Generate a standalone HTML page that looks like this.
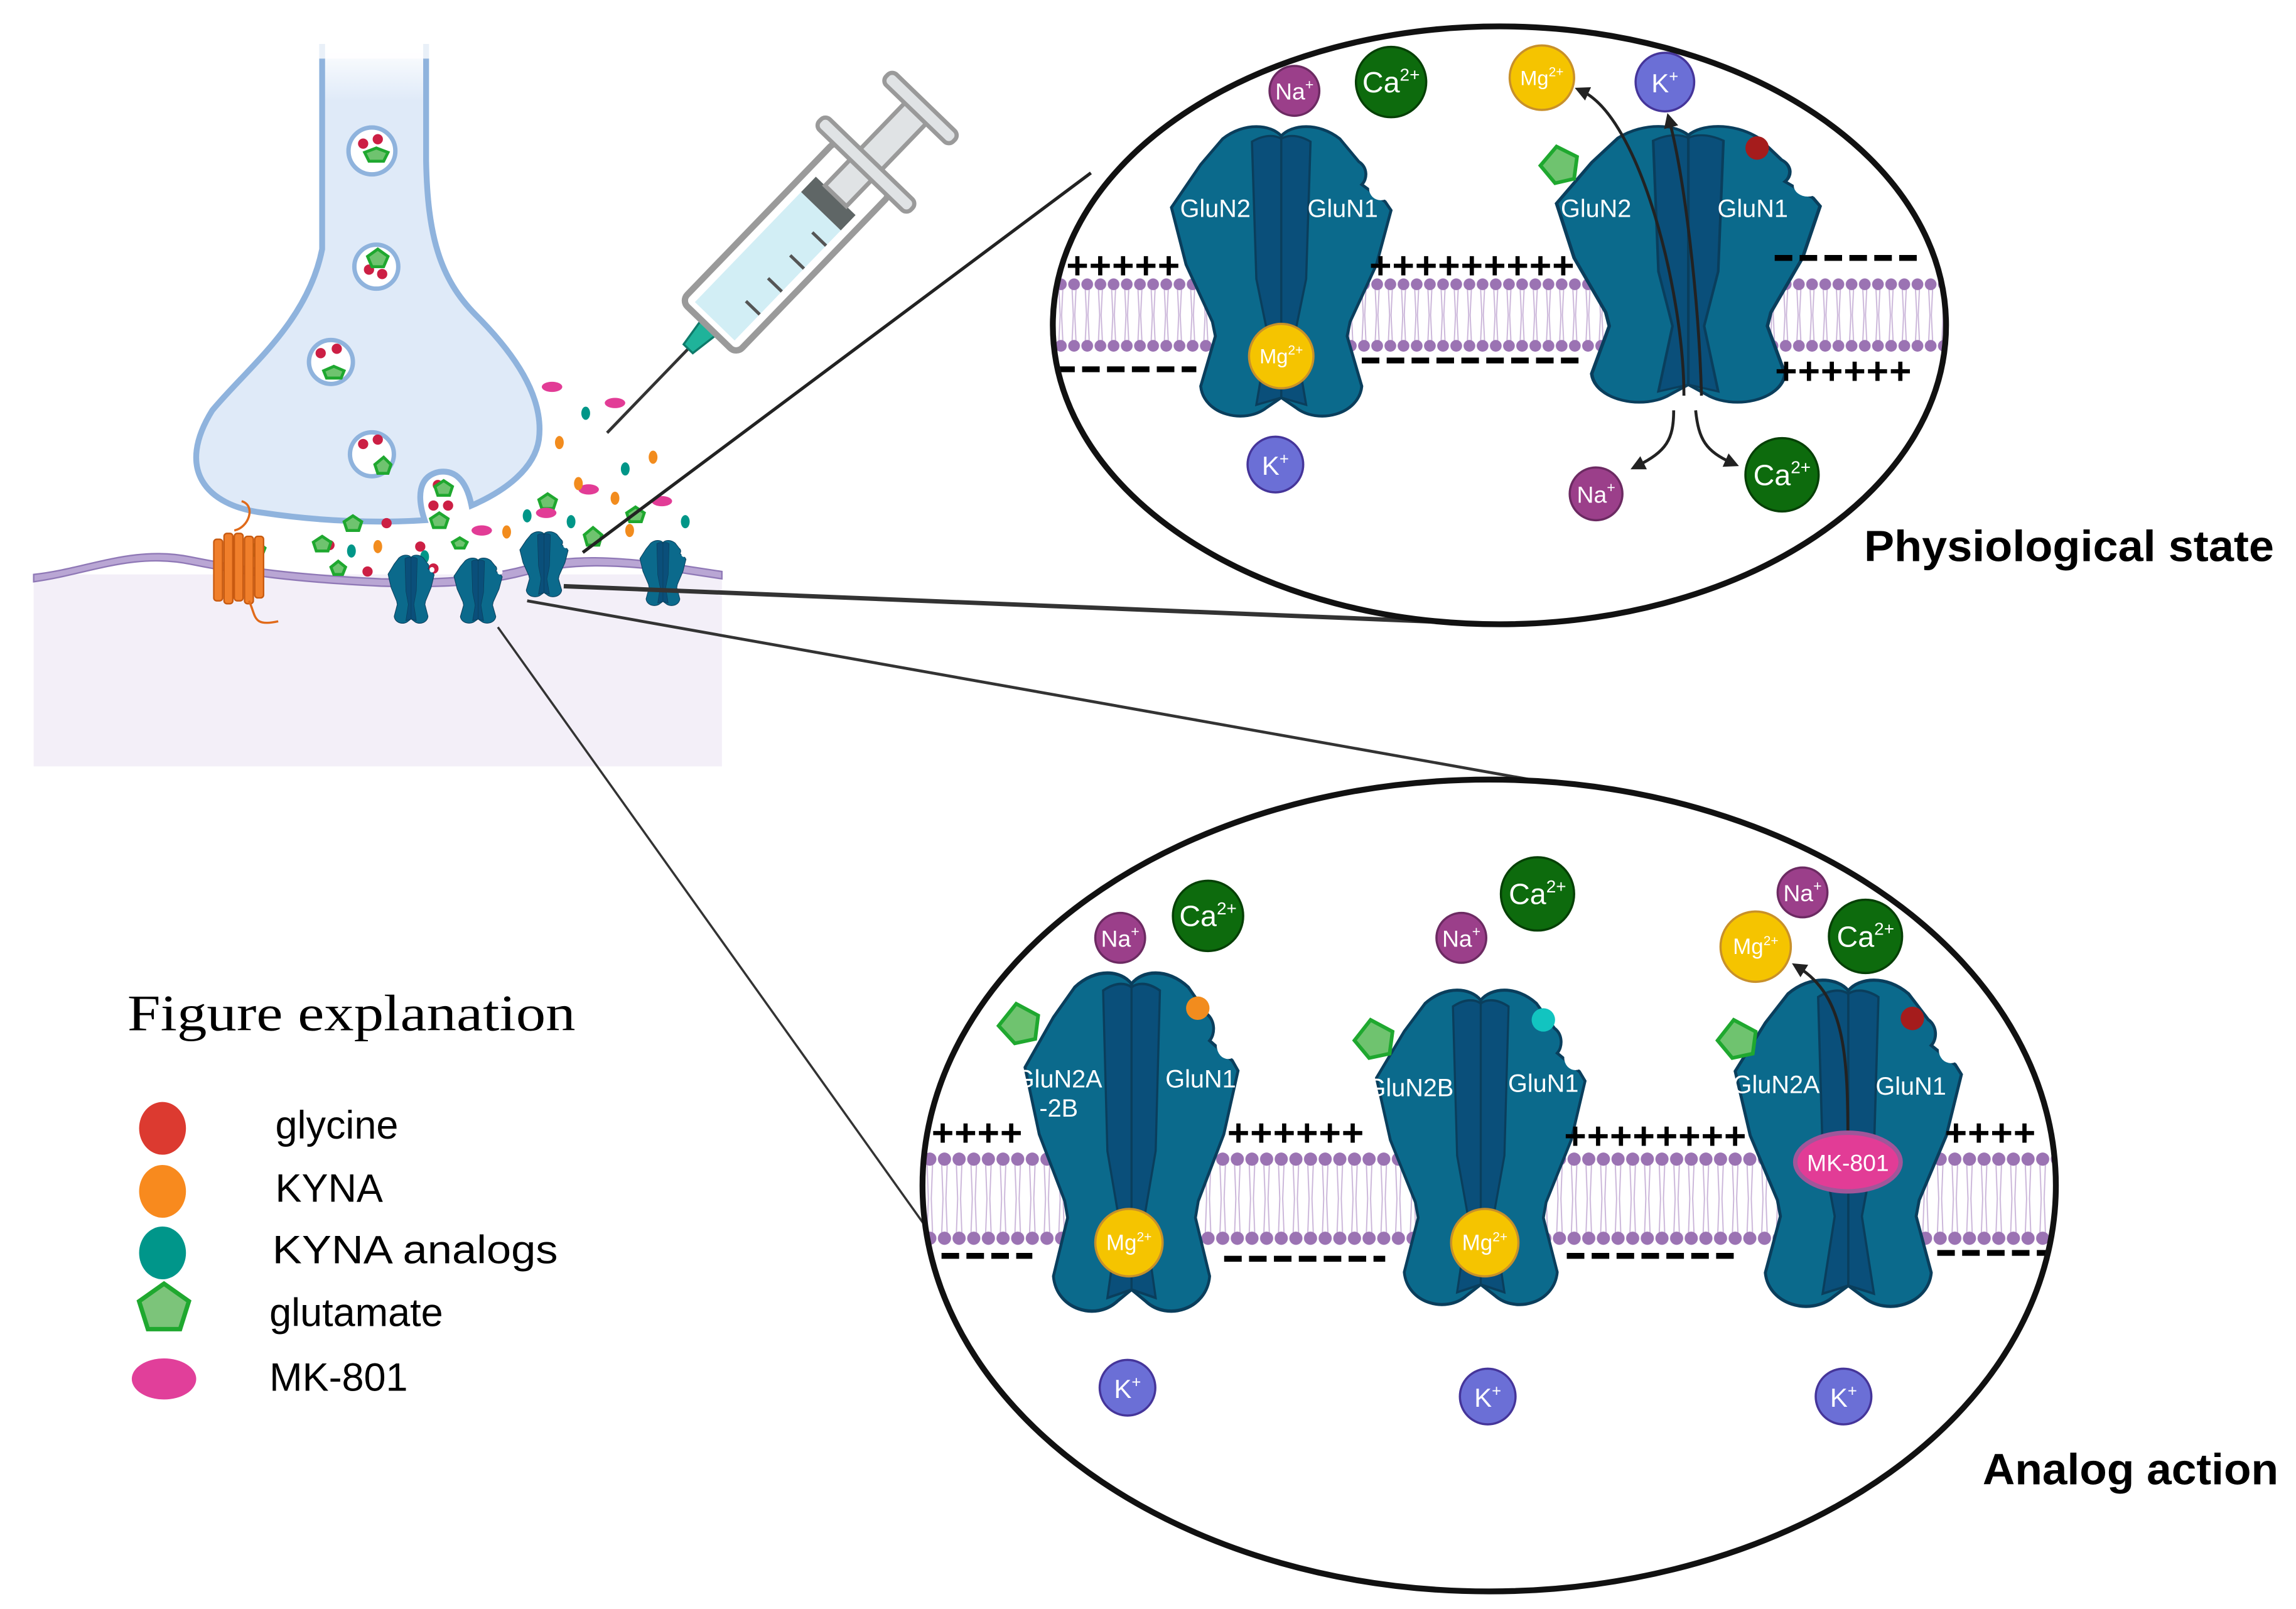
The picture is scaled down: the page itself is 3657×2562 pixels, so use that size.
<!DOCTYPE html>
<html><head><meta charset="utf-8"><style>
html,body{margin:0;padding:0;background:#fff}
svg{display:block}
.ion{font-family:"Liberation Sans Narrow","Liberation Sans",sans-serif;fill:#fff;text-anchor:middle}
.lab{font-family:"Liberation Sans Narrow","Liberation Sans",sans-serif;fill:#fff;font-size:17px;text-anchor:middle}
.pm{font-family:"Liberation Mono",monospace;font-weight:bold;fill:#000;font-size:26px}
.mn{stroke:#000;stroke-width:4;stroke-dasharray:12 5}
</style></head><body>
<svg width="3657" height="2562" viewBox="0 0 1568 1098" preserveAspectRatio="none" xmlns="http://www.w3.org/2000/svg">
<defs>
<symbol id="ch" viewBox="0 0 150 210" overflow="visible">
<path d="M35,12 C50,0 68,2 75,10 C82,2 100,0 115,12 L128,28 C134,32 134,40 130,44 L146,56 L150,62 L140,100 L122,140 L120,150 L130,185 C128,205 100,212 85,200 L75,193 L65,200 C50,212 22,205 20,185 L30,150 L28,140 L10,100 L0,60 L20,30 Z" fill="#0b6a8c" stroke="#0a3e5c" stroke-width="2"/>
<path d="M55,14 C65,8 72,10 75,12 C78,10 85,8 95,14 L92,110 L84,150 L92,198 L75,193 L58,198 L66,150 L58,110 Z" fill="#0a4f7a" stroke="#0a3e5c" stroke-width="1.5"/>
<line x1="75" y1="12" x2="75" y2="193" stroke="#0a3e5c" stroke-width="1.5"/>
<circle cx="143" cy="47" r="8" fill="#fff"/>
</symbol>
<pattern id="lipT" patternUnits="userSpaceOnUse" x="0" y="190" width="9" height="50">
<rect width="9" height="50" fill="#fff"/>
<path d="M3,4 L4,25 M6,4 L5,25 M3,46 L4,25 M6,46 L5,25" stroke="#c9b3d8" stroke-width="0.8"/>
<circle cx="4.5" cy="4" r="4" fill="#9b73b3"/><circle cx="4.5" cy="46" r="4" fill="#9b73b3"/>
</pattern>
<pattern id="lipB" patternUnits="userSpaceOnUse" x="0" y="786" width="10" height="64">
<rect width="10" height="64" fill="#fff"/>
<path d="M3,5 L4,32 M7,5 L6,32 M3,59 L4,32 M7,59 L6,32" stroke="#c9b3d8" stroke-width="0.8"/>
<circle cx="5" cy="5" r="4.5" fill="#9b73b3"/><circle cx="5" cy="59" r="4.5" fill="#9b73b3"/>
</pattern>
<clipPath id="cT"><ellipse cx="1024" cy="222" rx="305" ry="204"/></clipPath>
<clipPath id="cB"><ellipse cx="1017" cy="809" rx="387" ry="277"/></clipPath>
<marker id="ah" viewBox="0 0 10 10" refX="5" refY="5" markerWidth="5" markerHeight="5" orient="auto"><path d="M0,0 L10,5 L0,10 Z" fill="#222"/></marker>
<linearGradient id="ax" x1="0" y1="0" x2="0" y2="1"><stop offset="0" stop-color="#fff"/><stop offset="0.12" stop-color="#dfeaf8"/></linearGradient>
</defs>

<rect x="23" y="392" width="470" height="131" fill="#f3eff8"/>
<path d="M23,392 C60,388 90,372 130,380 C170,388 200,392 260,395 C300,396 330,394 360,386 C390,378 420,380 460,385 L493,390 L493,395 L460,390 C420,385 390,384 360,392 C330,400 300,401 260,400 C200,397 170,393 130,385 C90,377 60,392 23,397 Z" fill="#b9a6d4" stroke="#8f78b6" stroke-width="1"/>
<path d="M220,30 L220,170 C210,220 170,250 145,280 C120,320 140,345 180,350 C220,356 260,357 290,355 C285,340 285,325 300,322 C315,320 320,335 322,345 C345,335 365,320 368,300 C372,270 350,240 325,215 C300,190 292,160 291,110 L291,30" fill="url(#ax)" stroke="#8fb3dd" stroke-width="4"/>
<rect x="215" y="20" width="82" height="20" fill="#fff" opacity="0.8"/>
<g fill="#fff" stroke="#8fb3dd" stroke-width="3">
<circle cx="254" cy="103" r="16"/><circle cx="257" cy="182" r="15"/><circle cx="226" cy="247" r="15"/><circle cx="254" cy="310" r="15"/></g>
<g fill="#cc1f44"><circle cx="248" cy="98" r="3.5"/><circle cx="258" cy="95" r="3.5"/><circle cx="252" cy="184" r="3.5"/><circle cx="261" cy="187" r="3.5"/><circle cx="219" cy="241" r="3.5"/><circle cx="230" cy="238" r="3.5"/><circle cx="248" cy="303" r="3.5"/><circle cx="258" cy="300" r="3.5"/>
<circle cx="299" cy="331" r="3.5"/><circle cx="296" cy="345" r="3.5"/><circle cx="306" cy="345" r="3.5"/><circle cx="287" cy="373" r="3.5"/><circle cx="225" cy="372" r="3.5"/><circle cx="251" cy="390" r="3.5"/><circle cx="296" cy="388" r="3.5"/><circle cx="264" cy="357" r="3.5"/></g>
<g fill="#6fc36f" stroke="#1fa82f" stroke-width="2">
<path d="M249,104 l8,-3 8,3 -3,6 -10,0z"/><path d="M258,170 l7,5 -3,7 -8,0 -3,-7z"/><path d="M228,250 l7,3 -2,5 -10,0 -2,-5z"/><path d="M262,312 l5,5 -2,6 -7,0 -2,-6z"/>
<path d="M241,352 l6,4 -2,6 -8,0 -2,-6z"/><path d="M176,370 l5,4 -2,5 -6,0 -2,-5z"/><path d="M220,366 l6,4 -2,6 -8,0 -2,-6z"/><path d="M231,383 l5,4 -2,5 -6,0 -2,-5z"/><path d="M303,328 l6,4 -2,6 -8,0 -2,-6z"/><path d="M300,350 l6,4 -2,6 -8,0 -2,-6z"/><path d="M314,367 l5,3 -2,4 -6,0 -2,-4z"/><path d="M374,337 l6,4 -2,6 -8,0 -2,-6z"/><path d="M405,360 l6,5 -2,7 -8,0 -2,-7z"/><path d="M434,346 l6,4 -2,6 -8,0 -2,-6z"/></g>
<g fill="#e23c96"><ellipse cx="377" cy="264" rx="7" ry="3.5"/><ellipse cx="420" cy="275" rx="7" ry="3.5"/><ellipse cx="402" cy="334" rx="7" ry="3.5"/><ellipse cx="373" cy="350" rx="7" ry="3.5"/><ellipse cx="329" cy="362" rx="7" ry="3.5"/><ellipse cx="452" cy="342" rx="7" ry="3.5"/></g>
<g fill="#f28c1e"><ellipse cx="382" cy="302" rx="3" ry="4.5"/><ellipse cx="446" cy="312" rx="3" ry="4.5"/><ellipse cx="395" cy="330" rx="3" ry="4.5"/><ellipse cx="420" cy="340" rx="3" ry="4.5"/><ellipse cx="430" cy="362" rx="3" ry="4.5"/><ellipse cx="346" cy="363" rx="3" ry="4.5"/><ellipse cx="258" cy="373" rx="3" ry="4.5"/></g>
<g fill="#009688"><ellipse cx="400" cy="282" rx="3" ry="4.5"/><ellipse cx="427" cy="320" rx="3" ry="4.5"/><ellipse cx="360" cy="352" rx="3" ry="4.5"/><ellipse cx="390" cy="356" rx="3" ry="4.5"/><ellipse cx="468" cy="356" rx="3" ry="4.5"/><ellipse cx="240" cy="376" rx="3" ry="4.5"/><ellipse cx="290" cy="380" rx="3" ry="4.5"/></g>
<g fill="#f07f2b" stroke="#c85a10" stroke-width="1"><rect x="146" y="368" width="6" height="42" rx="2"/><rect x="153" y="364" width="6" height="48" rx="2"/><rect x="160" y="364" width="6" height="46" rx="2"/><rect x="167" y="366" width="6" height="46" rx="2"/><rect x="174" y="366" width="6" height="42" rx="2"/></g>
<path d="M165,342 C175,345 170,360 160,362 M170,410 C175,420 172,428 190,424" stroke="#e06a1a" stroke-width="1.5" fill="none"/>
<use href="#ch" transform="translate(265,378) scale(0.21,0.23)" width="150" height="210"/>
<use href="#ch" transform="translate(310,380) scale(0.22,0.22)" width="150" height="210"/>
<use href="#ch" transform="translate(355,362) scale(0.22,0.22)" width="150" height="210"/>
<use href="#ch" transform="translate(437,368) scale(0.21,0.22)" width="150" height="210"/>
<!-- syringe -->
<g transform="translate(470,238) rotate(-46) scale(1.45)">
<line x1="-55" y1="0" x2="0" y2="0" stroke="#333" stroke-width="1.4"/>
<path d="M0,-3 L14,-5 L14,5 L0,3 Z" fill="#1fb39a" stroke="#0e7a6a"/>
<rect x="14" y="-18" width="105" height="36" rx="4" fill="#fff" stroke="#9a9a9a" stroke-width="3"/>
<rect x="18" y="-13" width="72" height="26" fill="#d2eef5"/>
<rect x="90" y="-13" width="10" height="26" fill="#5f6666"/>
<rect x="100" y="-7" width="55" height="14" fill="#e0e3e5" stroke="#9a9a9a" stroke-width="2"/>
<rect x="117" y="-30" width="7" height="60" rx="3" fill="#e0e3e5" stroke="#9a9a9a" stroke-width="2"/>
<rect x="154" y="-22" width="7" height="44" rx="3" fill="#e0e3e5" stroke="#9a9a9a" stroke-width="2"/>
<path d="M35,13 V4 M50,13 V4 M65,13 V4 M80,13 V4" stroke="#555" stroke-width="1.5"/>
</g>
<line x1="398" y1="377" x2="745" y2="118" stroke="#222" stroke-width="2.2"/>
<line x1="385" y1="400" x2="1000" y2="425" stroke="#333" stroke-width="3"/>
<line x1="360" y1="410" x2="1045" y2="532" stroke="#333" stroke-width="2"/>
<line x1="340" y1="428" x2="645" y2="855" stroke="#333" stroke-width="1.5"/>

<!-- TOP ELLIPSE -->
<ellipse cx="1024" cy="222" rx="305" ry="204" fill="#fff"/>
<rect x="700" y="190" width="650" height="50" fill="url(#lipT)" clip-path="url(#cT)"/>
<use href="#ch" transform="translate(800,83) scale(1,0.976)" width="150" height="210"/>
<use href="#ch" transform="translate(1063,83) scale(1.2,0.93)" width="150" height="210"/>
<text class="lab" x="830" y="148">GluN2</text><text class="lab" x="917" y="148">GluN1</text>
<text class="lab" x="1090" y="148">GluN2</text><text class="lab" x="1197" y="148">GluN1</text>
<path d="M1063,100 l14,7 -2,15 -13,3 -10,-12 z" fill="#6fc36f" stroke="#1fa82f" stroke-width="2.5"/>
<circle cx="1200" cy="101" r="8" fill="#a51c1c"/>
<text class="pm" x="728" y="190">+++++</text><text class="pm" x="935" y="190">+++++++++</text>
<line class="mn" x1="1212" y1="176" x2="1313" y2="176"/>
<line class="mn" x1="722" y1="252" x2="817" y2="252"/><line class="mn" x1="930" y1="246" x2="1080" y2="246"/>
<text class="pm" x="1212" y="262">++++++</text>
<path d="M1150,270 C1150,200 1120,80 1080,62" stroke="#222" stroke-width="2" fill="none" marker-end="url(#ah)"/>
<path d="M1162,270 C1160,200 1150,120 1140,82" stroke="#222" stroke-width="2" fill="none" marker-end="url(#ah)"/>
<path d="M1143,280 C1143,300 1138,308 1118,318" stroke="#222" stroke-width="2" fill="none" marker-end="url(#ah)"/>
<path d="M1158,280 C1160,300 1165,308 1183,316" stroke="#222" stroke-width="2" fill="none" marker-end="url(#ah)"/>
<ellipse cx="1024" cy="222" rx="305" ry="204" fill="none" stroke="#111" stroke-width="4"/>
<g stroke-width="1.5">
<circle cx="884" cy="62" r="17" fill="#9b3f8a" stroke="#6c2a62"/><text class="ion" x="884" y="68" font-size="16">Na<tspan font-size="10" dy="-7">+</tspan></text>
<circle cx="950" cy="56" r="24" fill="#0d6b0d" stroke="#064006"/><text class="ion" x="950" y="63" font-size="20">Ca<tspan font-size="12" dy="-8">2+</tspan></text>
<circle cx="1053" cy="53" r="22" fill="#f5c400" stroke="#c8902a"/><text class="ion" x="1053" y="58" font-size="14">Mg<tspan font-size="9" dy="-6">2+</tspan></text>
<circle cx="1137" cy="56" r="20" fill="#6b6fd6" stroke="#45359a"/><text class="ion" x="1137" y="63" font-size="18">K<tspan font-size="11" dy="-7">+</tspan></text>
<circle cx="875" cy="243" r="22" fill="#f5c400" stroke="#c8902a"/><text class="ion" x="875" y="248" font-size="14">Mg<tspan font-size="9" dy="-6">2+</tspan></text>
<circle cx="871" cy="317" r="19" fill="#6b6fd6" stroke="#45359a"/><text class="ion" x="871" y="324" font-size="18">K<tspan font-size="11" dy="-7">+</tspan></text>
<circle cx="1090" cy="337" r="18" fill="#9b3f8a" stroke="#6c2a62"/><text class="ion" x="1090" y="343" font-size="16">Na<tspan font-size="10" dy="-7">+</tspan></text>
<circle cx="1217" cy="324" r="25" fill="#0d6b0d" stroke="#064006"/><text class="ion" x="1217" y="331" font-size="20">Ca<tspan font-size="12" dy="-8">2+</tspan></text>
</g>
<text x="1273" y="383" textLength="280" lengthAdjust="spacingAndGlyphs" font-family="Liberation Sans,sans-serif" font-weight="bold" font-size="30">Physiological state</text>

<!-- BOTTOM ELLIPSE -->
<ellipse cx="1017" cy="809" rx="387" ry="277" fill="#fff"/>
<rect x="620" y="786" width="800" height="64" fill="url(#lipB)" clip-path="url(#cB)"/>
<use href="#ch" transform="translate(700,660) scale(0.97,1.14)" width="150" height="210"/>
<use href="#ch" transform="translate(940,672) scale(0.95,1.06)" width="150" height="210"/>
<use href="#ch" transform="translate(1185,665) scale(1.03,1.1)" width="150" height="210"/>
<text class="lab" x="723" y="742">GluN2A</text><text class="lab" x="723" y="762">-2B</text><text class="lab" x="820" y="742">GluN1</text>
<text class="lab" x="963" y="748">GluN2B</text><text class="lab" x="1054" y="745">GluN1</text>
<text class="lab" x="1213" y="746">GluN2A</text><text class="lab" x="1305" y="747">GluN1</text>
<g fill="#6fc36f" stroke="#1fa82f" stroke-width="2.5">
<path d="M694,685 l15,8 -2,16 -14,3 -11,-12 z"/><path d="M936,696 l15,8 -2,15 -14,3 -10,-12 z"/><path d="M1184,696 l15,8 -2,15 -14,3 -10,-12 z"/></g>
<circle cx="818" cy="688" r="8" fill="#f28c1e"/><circle cx="1054" cy="696" r="8" fill="#12c4c0"/><circle cx="1306" cy="695" r="8" fill="#a51c1c"/>
<text class="pm" x="636" y="782">++++</text><text class="pm" x="838" y="782">++++++</text><text class="pm" x="1068" y="784">++++++++</text><text class="pm" x="1328" y="782">++++</text>
<line class="mn" x1="643" y1="857" x2="705" y2="857"/><line class="mn" x1="836" y1="859" x2="946" y2="859"/><line class="mn" x1="1070" y1="857" x2="1186" y2="857"/><line class="mn" x1="1323" y1="855" x2="1398" y2="855"/>
<path d="M1262,780 C1262,720 1260,680 1228,660" stroke="#222" stroke-width="2" fill="none" marker-end="url(#ah)"/>
<ellipse cx="1262" cy="793" rx="36" ry="20" fill="#e23c96" stroke="#a0569a" stroke-width="3"/>
<text class="ion" x="1262" y="799" font-size="16">MK-801</text>
<g stroke-width="1.5">
<circle cx="765" cy="640" r="17" fill="#9b3f8a" stroke="#6c2a62"/><text class="ion" x="765" y="646" font-size="16">Na<tspan font-size="10" dy="-7">+</tspan></text>
<circle cx="825" cy="625" r="24" fill="#0d6b0d" stroke="#064006"/><text class="ion" x="825" y="632" font-size="20">Ca<tspan font-size="12" dy="-8">2+</tspan></text>
<circle cx="998" cy="640" r="17" fill="#9b3f8a" stroke="#6c2a62"/><text class="ion" x="998" y="646" font-size="16">Na<tspan font-size="10" dy="-7">+</tspan></text>
<circle cx="1050" cy="610" r="25" fill="#0d6b0d" stroke="#064006"/><text class="ion" x="1050" y="617" font-size="20">Ca<tspan font-size="12" dy="-8">2+</tspan></text>
<circle cx="1231" cy="609" r="17" fill="#9b3f8a" stroke="#6c2a62"/><text class="ion" x="1231" y="615" font-size="16">Na<tspan font-size="10" dy="-7">+</tspan></text>
<circle cx="1199" cy="646" r="24" fill="#f5c400" stroke="#c8902a"/><text class="ion" x="1199" y="651" font-size="15">Mg<tspan font-size="9" dy="-6">2+</tspan></text>
<circle cx="1274" cy="639" r="25" fill="#0d6b0d" stroke="#064006"/><text class="ion" x="1274" y="646" font-size="20">Ca<tspan font-size="12" dy="-8">2+</tspan></text>
<circle cx="771" cy="848" r="23" fill="#f5c400" stroke="#c8902a"/><text class="ion" x="771" y="853" font-size="15">Mg<tspan font-size="9" dy="-6">2+</tspan></text>
<circle cx="1014" cy="848" r="23" fill="#f5c400" stroke="#c8902a"/><text class="ion" x="1014" y="853" font-size="15">Mg<tspan font-size="9" dy="-6">2+</tspan></text>
<circle cx="770" cy="947" r="19" fill="#6b6fd6" stroke="#45359a"/><text class="ion" x="770" y="954" font-size="18">K<tspan font-size="11" dy="-7">+</tspan></text>
<circle cx="1016" cy="953" r="19" fill="#6b6fd6" stroke="#45359a"/><text class="ion" x="1016" y="960" font-size="18">K<tspan font-size="11" dy="-7">+</tspan></text>
<circle cx="1259" cy="953" r="19" fill="#6b6fd6" stroke="#45359a"/><text class="ion" x="1259" y="960" font-size="18">K<tspan font-size="11" dy="-7">+</tspan></text>
</g>
<ellipse cx="1017" cy="809" rx="387" ry="277" fill="none" stroke="#111" stroke-width="4"/>
<text x="1354" y="1013" textLength="202" lengthAdjust="spacingAndGlyphs" font-family="Liberation Sans,sans-serif" font-weight="bold" font-size="30">Analog action</text>

<!-- legend -->
<text x="87" y="703" textLength="306" lengthAdjust="spacingAndGlyphs" font-family="Liberation Serif,serif" font-size="35">Figure explanation</text>
<g font-family="Liberation Sans,sans-serif" font-size="27" fill="#000">
<ellipse cx="111" cy="770" rx="16" ry="18" fill="#dc3a30"/><text x="188" y="777">glycine</text>
<ellipse cx="111" cy="813" rx="16" ry="18" fill="#f88a1e"/><text x="188" y="820">KYNA</text>
<ellipse cx="111" cy="855" rx="16" ry="18" fill="#00968a"/><text x="186" y="862" textLength="195" lengthAdjust="spacingAndGlyphs">KYNA analogs</text>
<path d="M112,876 l17,12 -6,19 -22,0 -6,-19 z" fill="#7cc47a" stroke="#1fa82f" stroke-width="3"/><text x="184" y="905">glutamate</text>
<ellipse cx="112" cy="941" rx="22" ry="14" fill="#e13f9a"/><text x="184" y="949">MK-801</text>
</g>
</svg>
</body></html>
